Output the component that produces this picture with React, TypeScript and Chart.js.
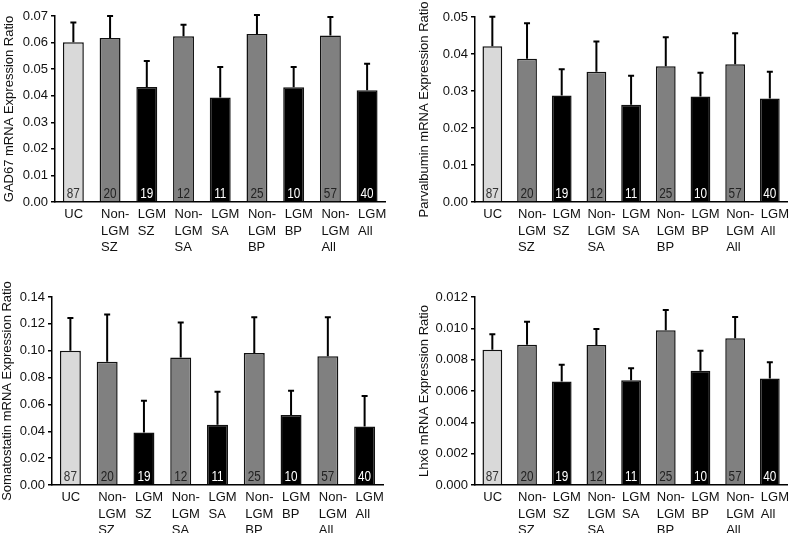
import React, { useEffect, useRef } from "react";
import { Chart, registerables } from "chart.js";
Chart.register(...registerables);

const categories: string[][] = [
  ["UC"],
  ["Non-", "LGM", "SZ"],
  ["LGM", "SZ"],
  ["Non-", "LGM", "SA"],
  ["LGM", "SA"],
  ["Non-", "LGM", "BP"],
  ["LGM", "BP"],
  ["Non-", "LGM", "All"],
  ["LGM", "All"],
];
const sampleSizes = [87, 20, 19, 12, 11, 25, 10, 57, 40];
const groupColors = ["#d9d9d9", "#808080", "#000000", "#808080", "#000000", "#808080", "#000000", "#808080", "#000000"];
const countColors = ["#333333", "#222222", "#ffffff", "#222222", "#ffffff", "#222222", "#ffffff", "#222222", "#ffffff"];

const gad67Means = [0.0601, 0.0617, 0.0433, 0.0624, 0.0393, 0.0632, 0.0432, 0.0627, 0.0421];
const gad67Errors = [0.0075, 0.0083, 0.0098, 0.0043, 0.0115, 0.0072, 0.0076, 0.0069, 0.0099];

const parvMeans = [0.0421, 0.0387, 0.0288, 0.0352, 0.0263, 0.0367, 0.0285, 0.0372, 0.0280];
const parvErrors = [0.0080, 0.0096, 0.0071, 0.0082, 0.0078, 0.0078, 0.0064, 0.0084, 0.0072];

const somMeans = [0.1000, 0.0918, 0.0391, 0.0950, 0.0448, 0.0983, 0.0522, 0.0958, 0.0435];
const somErrors = [0.0244, 0.0351, 0.0236, 0.0261, 0.0246, 0.0266, 0.0179, 0.0291, 0.0227];

const lhx6Means = [0.00863, 0.00895, 0.00661, 0.00893, 0.00669, 0.00987, 0.00729, 0.00936, 0.00680];
const lhx6Errors = [0.00100, 0.00147, 0.00106, 0.00102, 0.00077, 0.00130, 0.00128, 0.00136, 0.00104];

const FONT = "'Liberation Sans', Arial, sans-serif";

type PanelDef = {
  title: string;
  means: number[];
  errors: number[];
  yMax: number;
  yStep: number;
  decimals: number;
  left: number;
  top: number;
  width: number;
  height: number;
  yWidth: number;
  padTop: number;
  padRight: number;
  xHeight: number;
  titlePad: number;
};

const panels: PanelDef[] = [
  { title: "GAD67 mRNA Expression Ratio", means: gad67Means, errors: gad67Errors, yMax: 0.07, yStep: 0.01, decimals: 2,
    left: 0, top: 0, width: 400, height: 265, yWidth: 55, padTop: 16, padRight: 13, xHeight: 63, titlePad: 2 },
  { title: "Parvalbumin mRNA Expression Ratio", means: parvMeans, errors: parvErrors, yMax: 0.05, yStep: 0.01, decimals: 2,
    left: 400, top: 0, width: 402, height: 265, yWidth: 75, padTop: 17, padRight: 0, xHeight: 63, titlePad: 17 },
  { title: "Somatostatin mRNA Expression Ratio", means: somMeans, errors: somErrors, yMax: 0.14, yStep: 0.02, decimals: 2,
    left: 0, top: 265, width: 400, height: 268, yWidth: 52, padTop: 32, padRight: 17, xHeight: 48, titlePad: 0 },
  { title: "Lhx6 mRNA Expression Ratio", means: lhx6Means, errors: lhx6Errors, yMax: 0.012, yStep: 0.002, decimals: 3,
    left: 400, top: 265, width: 402, height: 268, yWidth: 75, padTop: 32, padRight: 0, xHeight: 48, titlePad: 17 },
];

function Panel({ def }: { def: PanelDef }) {
  const ref = useRef<HTMLCanvasElement | null>(null);
  useEffect(() => {
    if (!ref.current) return;
    const overlay = {
      id: "overlay",
      afterDatasetsDraw(chart: any) {
        const ctx = chart.ctx;
        const meta = chart.getDatasetMeta(0);
        const yScale = chart.scales.y;
        meta.data.forEach((bar: any, i: number) => {
          const top = yScale.getPixelForValue(def.means[i] + def.errors[i]);
          ctx.save();
          ctx.strokeStyle = "#000";
          ctx.lineWidth = 2;
          ctx.beginPath();
          ctx.moveTo(bar.x, bar.y);
          ctx.lineTo(bar.x, top);
          ctx.moveTo(bar.x - 3, top);
          ctx.lineTo(bar.x + 3, top);
          ctx.stroke();
          ctx.fillStyle = countColors[i];
          ctx.font = "14px " + FONT;
          ctx.textAlign = "center";
          ctx.textBaseline = "alphabetic";
          ctx.translate(bar.x, bar.base - 3);
          ctx.scale(0.84, 1);
          ctx.fillText(String(sampleSizes[i]), 0, 0);
          ctx.restore();
        });
      },
    };
    const chart = new Chart(ref.current, {
      type: "bar",
      data: {
        labels: categories,
        datasets: [
          {
            data: def.means,
            backgroundColor: groupColors,
            borderColor: "#111",
            borderWidth: 1.5,
            borderSkipped: "bottom",
            barPercentage: 0.57,
            categoryPercentage: 1,
          },
        ],
      },
      options: {
        animation: false,
        responsive: false,
        maintainAspectRatio: false,
        layout: { padding: { top: def.padTop, right: def.padRight, left: 0, bottom: 0 } },
        plugins: { legend: { display: false }, tooltip: { enabled: false } },
        scales: {
          x: {
            grid: { display: false, drawTicks: false, tickLength: 0 },
            border: { display: true, color: "#000", width: 1.5 },
            ticks: {
              color: "#111",
              font: { family: FONT, size: 13, lineHeight: 1.28 },
              align: "start",
              labelOffset: -9,
              maxRotation: 0,
              minRotation: 0,
              autoSkip: false,
              padding: 4,
            },
            afterFit: (s: any) => { s.height = def.xHeight; },
          },
          y: {
            min: 0,
            max: def.yMax,
            grid: { display: true, drawOnChartArea: false, drawTicks: true, tickLength: 4, color: "#000", lineWidth: 1.5 },
            border: { display: true, color: "#000", width: 1.5 },
            ticks: {
              stepSize: def.yStep,
              color: "#111",
              font: { family: FONT, size: 13 },
              padding: 3,
              callback: (v: any) => Number(v).toFixed(def.decimals),
            },
            title: {
              display: true,
              text: def.title,
              color: "#111",
              font: { family: FONT, size: 13 },
              padding: { top: def.titlePad, bottom: 0 },
            },
            afterFit: (s: any) => { s.width = def.yWidth; },
          },
        },
      },
      plugins: [overlay],
    } as any);
    return () => chart.destroy();
  }, [def]);
  return (
    <div style={{ position: "absolute", left: def.left, top: def.top, width: def.width, height: def.height }}>
      <canvas ref={ref} width={def.width} height={def.height} style={{ width: def.width, height: def.height, display: "block" }} />
    </div>
  );
}

export default function App() {
  return (
    <div style={{ position: "fixed", left: 0, top: 0, width: 800, height: 533, overflow: "hidden", background: "#fff" }}>
      {panels.map((p, i) => (
        <Panel key={i} def={p} />
      ))}
    </div>
  );
}
